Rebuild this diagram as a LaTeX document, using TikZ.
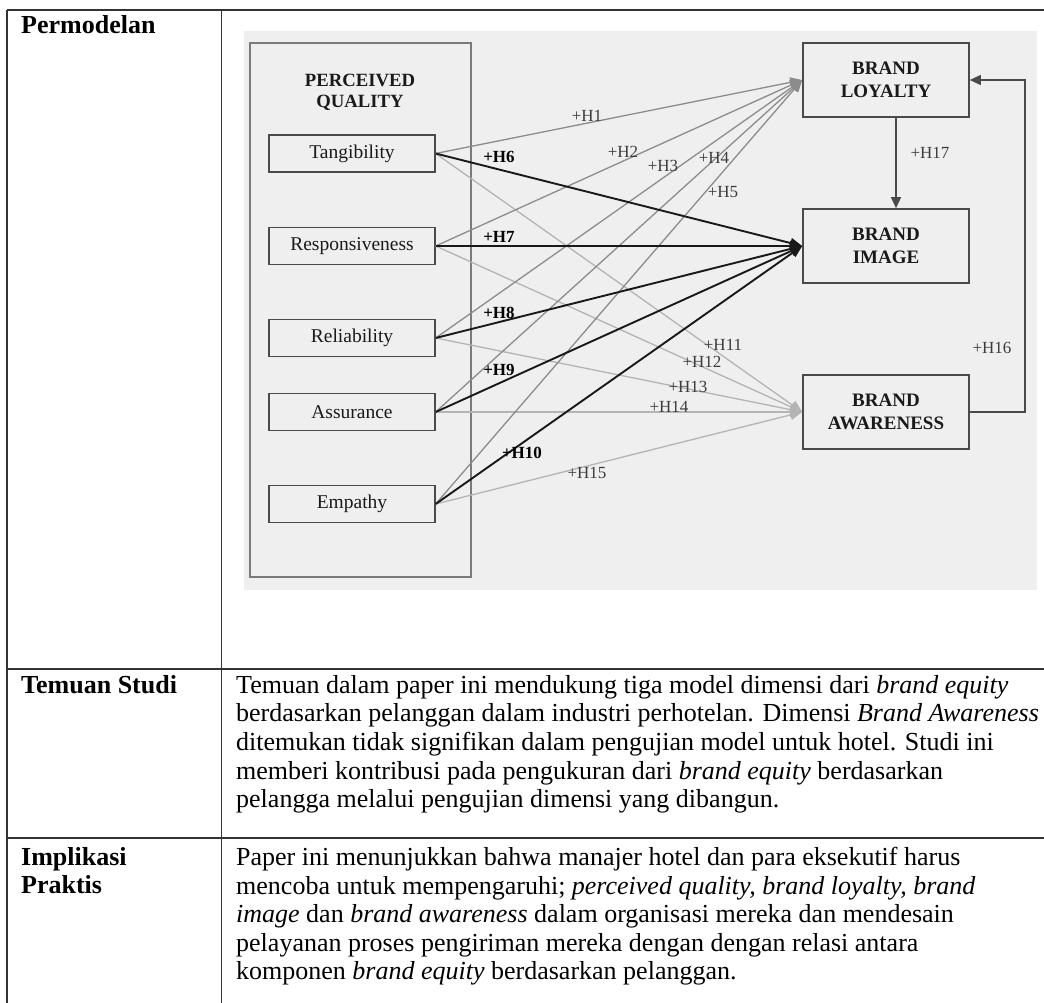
\documentclass[tikz,border=0pt]{standalone}
\usepackage{fontspec}
\setmainfont{Liberation Serif}
\usetikzlibrary{arrows.meta}
\definecolor{bggray}{HTML}{EFEFEF}
\definecolor{boxline}{HTML}{4A4A4A}
\definecolor{pqline}{HTML}{7A7A7A}
\definecolor{midgray}{HTML}{8C8C8C}
\definecolor{lightgray}{HTML}{B4B4B4}
\definecolor{ink}{HTML}{1A1A1A}
\definecolor{rule}{HTML}{333333}
\tikzset{
  dimbox/.style={draw=boxline, line width=1.3pt, minimum width=166pt, minimum height=37pt,
    inner sep=0pt, text=ink, font=\fontsize{19.5}{22}\selectfont},
  bigbox/.style={draw=boxline, line width=1.6pt, minimum width=166pt, minimum height=74pt,
    inner sep=0pt, text=ink, align=center, font=\fontsize{19}{23}\selectfont\bfseries},
  hlab/.style={text=ink!85, inner sep=0pt, font=\fontsize{17}{20}\selectfont},
  hbold/.style={text=black, inner sep=0pt, font=\fontsize{17}{20}\selectfont\bfseries},
  toBL/.style={draw=midgray, line width=1.3pt, -{Triangle[length=12pt,width=10pt]}},
  toBI/.style={draw=black!90, line width=1.9pt, -{Triangle[length=12pt,width=10pt]}},
  toBA/.style={draw=lightgray, line width=1.3pt, -{Triangle[length=12pt,width=10pt]}},
  darkarrow/.style={draw=boxline, line width=1.4pt, -{Triangle[length=11pt,width=10pt]}},
  rowhead/.style={inner sep=0pt, text=black, font=\fontsize{26}{28.5}\selectfont\bfseries},
  body/.style={inner sep=0pt, text=black, align=left, font=\fontsize{26}{28.6}\selectfont},
  tablerule/.style={draw=rule, line width=1.3pt}
}
\begin{document}
\begin{tikzpicture}[x=1pt,y=-1pt]
\useasboundingbox (0,0) rectangle (1044,1003);
\fill[white] (0,0) rectangle (1044,1003);

% table rules
\draw[tablerule] (7,10) -- (1044,10);
\draw[tablerule] (7,10) -- (7,1003);
\draw[tablerule] (221.5,10) -- (221.5,1003);
\draw[tablerule] (7,669) -- (1044,669);
\draw[tablerule] (7,838) -- (1044,838);

% left column headings
\node[rowhead, anchor=base west] (hperm) at (21,34) {Permodelan};
\node[rowhead, anchor=base west] (htemu) at (21,693) {Temuan Studi};
\node[rowhead, anchor=base west] (himp1) at (21,865) {Implikasi};
\node[rowhead, anchor=base west] (himp2) at (21,893.5) {Praktis};

% body text
\node[body, anchor=north west] (ttemu) at (236,675) {Temuan dalam paper ini mendukung tiga model dimensi dari \textit{brand equity}\\
berdasarkan pelanggan dalam industri perhotelan. Dimensi \textit{Brand Awareness}\\
ditemukan tidak signifikan dalam pengujian model untuk hotel. Studi ini\\
memberi kontribusi pada pengukuran dari \textit{brand equity} berdasarkan\\
pelangga melalui pengujian dimensi yang dibangun.};
\node[body, anchor=north west] (timp) at (236,847) {Paper ini menunjukkan bahwa manajer hotel dan para eksekutif harus\\
mencoba untuk mempengaruhi; \textit{perceived quality, brand loyalty, brand}\\
\textit{image} dan \textit{brand awareness} dalam organisasi mereka dan mendesain\\
pelayanan proses pengiriman mereka dengan dengan relasi antara\\
komponen \textit{brand equity} berdasarkan pelanggan.};

% diagram background
\fill[bggray] (244,31) rectangle (1037,590);

% perceived quality container
\node[draw=pqline, line width=1.3pt, minimum width=221pt, minimum height=534pt, inner sep=0pt] (pq) at (360.5,310) {};
\node[inner sep=0pt, text=ink, align=center, font=\fontsize{18.7}{21}\selectfont\bfseries] (pqt) at (360,92) {PERCEIVED\\QUALITY};

\node[dimbox] (tan) at (352,153.5) {Tangibility};
\node[dimbox] (res) at (352,246) {Responsiveness};
\node[dimbox] (rel) at (352,338) {Reliability};
\node[dimbox] (ass) at (352,412) {Assurance};
\node[dimbox] (emp) at (352,504) {Empathy};

\node[bigbox] (bl) at (886,80) {BRAND\\LOYALTY};
\node[bigbox] (bi) at (886,246) {BRAND\\IMAGE};
\node[bigbox] (ba) at (886,412) {BRAND\\AWARENESS};

% paths to brand awareness (light gray)
\draw[toBA] (tan.east) -- (ba.west);
\draw[toBA] (res.east) -- (ba.west);
\draw[toBA] (rel.east) -- (ba.west);
\draw[toBA] (ass.east) -- (ba.west);
\draw[toBA] (emp.east) -- (ba.west);
% paths to brand loyalty (gray)
\draw[toBL] (tan.east) -- (bl.west);
\draw[toBL] (res.east) -- (bl.west);
\draw[toBL] (rel.east) -- (bl.west);
\draw[toBL] (ass.east) -- (bl.west);
\draw[toBL] (emp.east) -- (bl.west);
% paths to brand image (black)
\draw[toBI] (tan.east) -- (bi.west);
\draw[toBI] (res.east) -- (bi.west);
\draw[toBI] (rel.east) -- (bi.west);
\draw[toBI] (ass.east) -- (bi.west);
\draw[toBI] (emp.east) -- (bi.west);

% loyalty -> image, awareness -> loyalty
\draw[darkarrow] ([xshift=10pt]bl.south) -- ([xshift=10pt]bi.north);
\draw[darkarrow] (ba.east) -- ++(55,0) |- (bl.east);

% labels
\node[hlab] (l1) at (587,116) {+H1};
\node[hlab] (l2) at (623,152) {+H2};
\node[hlab] (l3) at (663,166) {+H3};
\node[hlab] (l4) at (714,158) {+H4};
\node[hlab] (l5) at (723,192) {+H5};
\node[hbold] (l6) at (499,157) {+H6};
\node[hbold] (l7) at (499,237) {+H7};
\node[hbold] (l8) at (499,313) {+H8};
\node[hbold] (l9) at (499,370) {+H9};
\node[hbold] (l10) at (522,453) {+H10};
\node[hlab] (l11) at (723,345) {+H11};
\node[hlab] (l12) at (702,362) {+H12};
\node[hlab] (l13) at (688,387) {+H13};
\node[hlab] (l14) at (669,407) {+H14};
\node[hlab] (l15) at (587,473) {+H15};
\node[hlab] (l16) at (992,348) {+H16};
\node[hlab] (l17) at (930,153) {+H17};
\end{tikzpicture}
\end{document}
